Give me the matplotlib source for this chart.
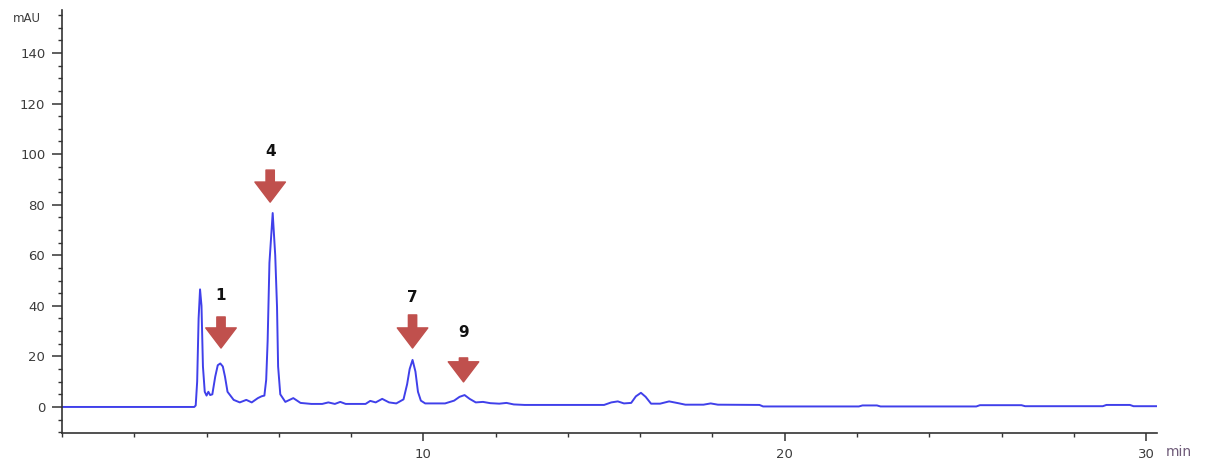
import matplotlib
matplotlib.use("Agg")
import matplotlib.pyplot as plt
from matplotlib.ticker import MultipleLocator

# === Chromatogram trace (retention time [min], absorbance [mAU]) ===
time_min = [
    0.0, 3.66, 3.70, 3.74, 3.78, 3.82, 3.86, 3.90, 3.95, 4.00,
    4.05, 4.10, 4.16, 4.24, 4.31, 4.38, 4.45, 4.51, 4.58, 4.66,
    4.75, 4.92, 5.10, 5.25, 5.42, 5.52, 5.60, 5.65, 5.69, 5.74,
    5.83, 5.90, 5.95, 5.98, 6.04, 6.18, 6.40, 6.60, 6.90, 7.20,
    7.37, 7.55, 7.70, 7.85, 8.40, 8.53, 8.68, 8.86, 9.05, 9.25,
    9.45, 9.55, 9.62, 9.70, 9.78, 9.85, 9.93, 10.05, 10.60, 10.85,
    11.00, 11.14, 11.28, 11.45, 11.65, 11.85, 12.10, 12.30, 12.50, 12.80,
    15.00, 15.20, 15.38, 15.55, 15.75, 15.88, 16.02, 16.15, 16.30, 16.55,
    16.80, 17.05, 17.25, 17.75, 17.95, 18.15, 19.30, 19.40, 22.05, 22.15,
    22.55, 22.65, 25.30, 25.40, 26.55, 26.65, 28.80, 28.90, 29.55, 29.65,
    30.28,
]
signal_mau = [
    0.0, 0.0, 0.6, 10.0, 35.0, 46.5, 40.0, 16.0, 6.0, 4.5,
    6.0, 4.7, 5.0, 12.0, 16.5, 17.2, 16.0, 12.0, 6.0, 4.5,
    2.8, 1.8, 2.8, 1.8, 3.5, 4.2, 4.5, 10.7, 26.0, 57.0,
    76.7, 60.0, 39.5, 16.0, 5.0, 2.0, 3.5, 1.6, 1.2, 1.2,
    1.8, 1.2, 2.0, 1.2, 1.2, 2.4, 1.8, 3.2, 1.8, 1.4,
    3.0, 9.0, 15.0, 18.6, 14.0, 6.0, 2.5, 1.4, 1.4, 2.5,
    4.0, 4.7, 3.2, 1.8, 2.0, 1.5, 1.3, 1.6, 1.0, 0.8,
    0.8, 1.8, 2.2, 1.4, 1.6, 4.2, 5.6, 4.0, 1.3, 1.3,
    2.2, 1.5, 0.9, 0.9, 1.4, 0.9, 0.8, 0.2, 0.2, 0.6,
    0.6, 0.2, 0.2, 0.7, 0.7, 0.3, 0.3, 0.8, 0.8, 0.3,
    0.3,
]

# === Marked peaks: label, arrow x, arrow tip / tail heights, label height ===
peak_labels = ["1", "4", "7", "9"]
peak_x = [4.40, 5.76, 9.70, 11.11]
arrow_tip = [23.3, 81.0, 23.3, 9.9]
arrow_tail = [35.6, 93.7, 36.4, 19.4]
label_y = [43.9, 101.2, 43.1, 29.6]

line_color = "#4040ea"
arrow_color = "#c0504d"
tick_color = "#3c3c3c"

fig = plt.figure(figsize=(12.05, 4.59), dpi=100)
ax = fig.add_axes([62 / 1205, 26 / 459, (1157 - 62) / 1205, (433 - 10) / 459])

ax.plot(time_min, signal_mau, color=line_color, lw=1.4)

for lab, x, tip, tail, ly in zip(peak_labels, peak_x, arrow_tip, arrow_tail, label_y):
    ax.annotate(
        "", xy=(x, tip), xytext=(x, tail),
        arrowprops=dict(
            arrowstyle="simple,head_length=1.45,head_width=2.2,tail_width=0.6",
            color=arrow_color, shrinkA=0, shrinkB=0, mutation_scale=10,
        ),
    )
    ax.text(x, ly, lab, ha="center", va="center", fontsize=11,
            fontweight="bold", color="#111111")

# === Axes styling ===
ax.set_xlim(0, 30.3)
ax.set_ylim(-10.3, 157)
ax.spines["top"].set_visible(False)
ax.spines["right"].set_visible(False)
for s in ["left", "bottom"]:
    ax.spines[s].set_color("#333333")
    ax.spines[s].set_linewidth(1.2)

ax.xaxis.set_minor_locator(MultipleLocator(2))
ax.yaxis.set_minor_locator(MultipleLocator(5))
ax.set_xticks([10, 20, 30])
ax.set_yticks([0, 20, 40, 60, 80, 100, 120, 140])

ax.tick_params(axis="both", which="major", direction="out", length=6,
               width=1.1, color="#333333", labelcolor=tick_color, labelsize=9.5)
ax.tick_params(axis="both", which="minor", direction="out", length=3,
               width=1.0, color="#333333")
ax.tick_params(axis="x", which="major", pad=5)
ax.tick_params(axis="y", which="major", length=7, pad=5)

fig.text(27 / 1205, 1 - 18 / 459, "mAU", ha="center", va="center",
         fontsize=8.5, color=tick_color)
fig.text(1179 / 1205, 1 - 452 / 459, "min", ha="center", va="center",
         fontsize=10, color="#6e5a78")

fig.savefig("out.png", dpi=100)
plt.close(fig)
